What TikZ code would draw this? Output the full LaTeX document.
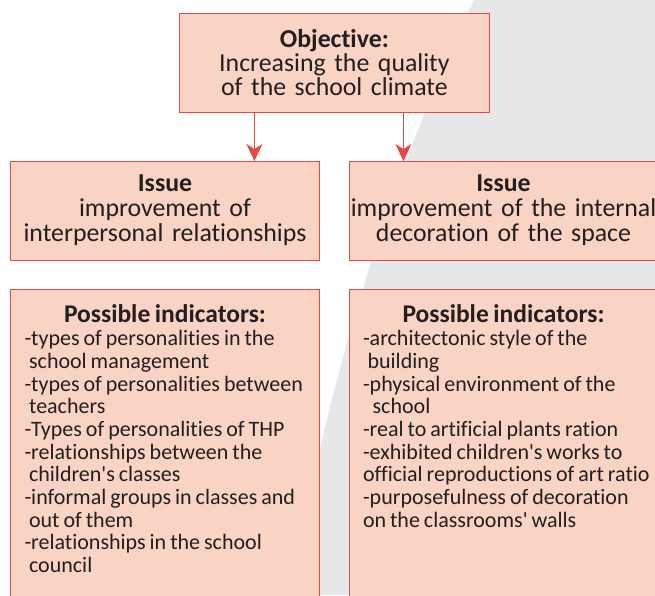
\documentclass[tikz,border=0pt]{standalone}
\usepackage{fontspec}
\setmainfont{Carlito}[Ligatures={TeX,NoCommon},WordSpace=0.8]
\usetikzlibrary{
    arrows.meta,
    positioning,
}
\definecolor{boxfill}{HTML}{F9D3C4}
\definecolor{boxline}{HTML}{EC4545}
\definecolor{backgrey}{HTML}{E6E7E9}
\definecolor{inkgrey}{HTML}{231F20}
\tikzset{
    goalbox/.style = {
        rectangle,
        minimum width=310pt,
        minimum height=99pt,
        text width=310pt,
        inner xsep=0pt,
        inner ysep=2pt,
        outer sep=0pt,
        align=center,
        fill=boxfill,
        draw=boxline,
        line width=0.9pt,
        text=inkgrey,
        font=\fontsize{25.8}{24}\selectfont,
    },
    issuebox/.style = {
        goalbox,
        minimum width=309pt,
        text width=309pt,
        font=\fontsize{25.8}{25}\selectfont,
    },
    indicatorbox/.style = {
        rectangle,
        minimum width=309pt,
        inner xsep=9.5pt,
        inner ysep=16pt,
        outer sep=0pt,
        fill=boxfill,
        draw=boxline,
        line width=0.9pt,
        text=inkgrey,
    },
}
\tikzstyle{arrow} = [
    draw=boxline,
    line width=1pt,
    -{Stealth[length=17pt,width=16pt,inset=5pt]}
]
\newcommand{\indhead}{{\centering\fontsize{25.5}{23}\selectfont\bfseries Possible indicators:\par}}
\newcommand{\indbody}{\raggedright\leftskip=4.5pt\rightskip=-20pt plus 1fil\fontsize{22}{22.7}\selectfont}

\begin{document}
\begin{tikzpicture}[x=1pt,y=-1pt]
        \useasboundingbox (0,0) rectangle (655,595);
        \clip (0,0) rectangle (655,595);
        % grey band behind the right column
        \fill [backgrey] (474,0) -- (655,0) -- (655,595) -- (290,595)
            .. controls (326,395) and (380,200) .. (474,0) -- cycle;

        \node [goalbox] (goal) at (334.4,62.5)
        {\textbf{Objective:}\\Increasing the quality\\of the school climate};

        \node [issuebox, below = 49pt of goal, xshift=-169.4pt] (issueL)
        {\textbf{Issue}\\improvement of\\interpersonal relationships};

        \node [issuebox, right = 29.5pt of issueL] (issueR)
        {\textbf{Issue}\\improvement of the internal\\decoration of the space};

        \node [indicatorbox, below = 29pt of issueL, anchor=north] (indL)
        {\begin{minipage}[t][300pt][t]{290pt}
        \indhead
        \indbody
        -types of personalities in the\\
        \hspace*{4.6pt}school management\\
        -types of personalities between\\
        \hspace*{4.6pt}teachers\\
        -Types of personalities of THP\\
        -relationships between the\\
        \hspace*{4.6pt}children\textquotesingle s classes\\
        -informal groups in classes and\\
        \hspace*{4.6pt}out of them\\
        -relationships in the school\\
        \hspace*{4.6pt}council
        \end{minipage}};

        \node [indicatorbox, below = 29pt of issueR, anchor=north] (indR)
        {\begin{minipage}[t][300pt][t]{290pt}
        \indhead
        \indbody
        -architectonic style of the\\
        \hspace*{4.6pt}building\\
        -physical environment of the\\
        \hspace*{9.6pt}school\\
        -real to artificial plants ration\\
        -exhibited children\textquotesingle s works to\\
        official reproductions of art ratio\\
        -purposefulness of decoration\\
        on the classrooms\textquotesingle{} walls
        \end{minipage}};

        \draw [arrow] ([xshift=-80pt]goal.south) -- ([xshift=-80pt]goal.south |- issueL.north);
        \draw [arrow] ([xshift=69pt]goal.south) -- ([xshift=69pt]goal.south |- issueR.north);

    \end{tikzpicture}
\end{document}
